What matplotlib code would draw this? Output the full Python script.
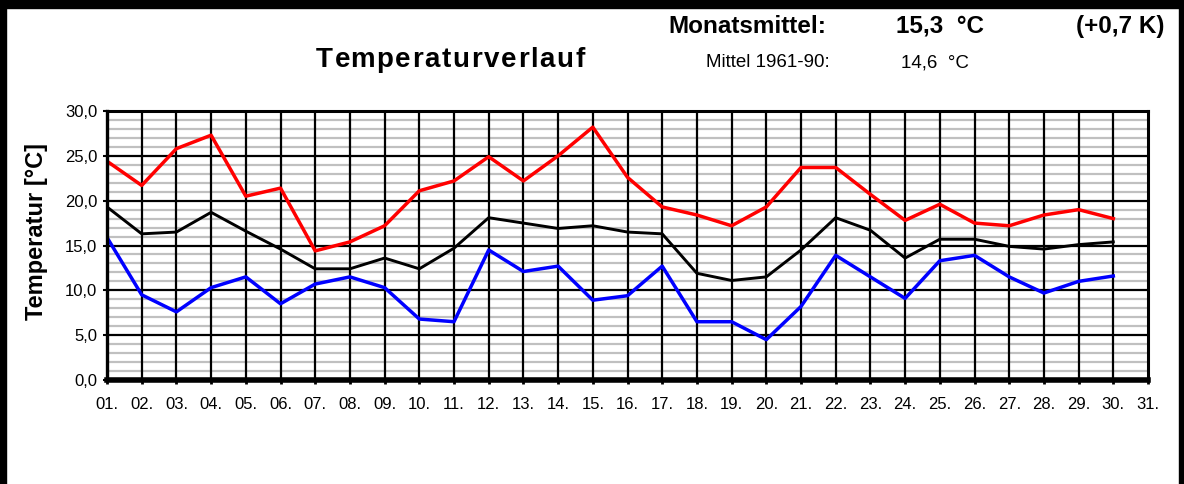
import matplotlib
matplotlib.use("Agg")
import matplotlib.pyplot as plt
from matplotlib.patches import Rectangle

plt.rcParams["font.family"] = ["Liberation Sans", "DejaVu Sans"]

# Daily values, June (days 1-30)
days = list(range(1, 31))
t_max = [24.4, 21.7, 25.8, 27.3, 20.5, 21.4, 14.4, 15.4, 17.2, 21.1,
         22.2, 24.9, 22.2, 25.0, 28.2, 22.6, 19.3, 18.4, 17.2, 19.3,
         23.7, 23.7, 20.7, 17.8, 19.6, 17.5, 17.2, 18.4, 19.0, 18.0]
t_mean = [19.3, 16.3, 16.5, 18.7, 16.6, 14.6, 12.4, 12.4, 13.6, 12.4,
          14.7, 18.1, 17.5, 16.9, 17.2, 16.5, 16.3, 11.9, 11.1, 11.5,
          14.5, 18.1, 16.7, 13.6, 15.7, 15.7, 14.9, 14.6, 15.1, 15.4]
t_min = [15.9, 9.5, 7.6, 10.3, 11.5, 8.5, 10.7, 11.5, 10.3, 6.8,
         6.5, 14.5, 12.1, 12.7, 8.9, 9.4, 12.7, 6.5, 6.5, 4.5,
         8.2, 13.9, 11.5, 9.1, 13.3, 13.9, 11.5, 9.7, 11.0, 11.6]
tick_days = list(range(1, 32))
tick_labels = [f"{d:02d}." for d in tick_days]
y_ticks = [0, 5, 10, 15, 20, 25, 30]
y_labels = ["0,0", "5,0", "10,0", "15,0", "20,0", "25,0", "30,0"]

W, H = 1184, 484
fig = plt.figure(figsize=(W / 100, H / 100), dpi=100)
ax = fig.add_axes([107 / W, 1 - 380 / H, (1148 - 107) / W, (380 - 111) / H])

ax.set_xlim(1, 31)
ax.set_ylim(0, 30)

# grid: grey minor every 1 degree, black major every 5, black vertical per day
for v in range(1, 30):
    if v % 5:
        ax.axhline(v, color="#c0c0c0", lw=1.6, zorder=1)
for v in y_ticks[1:-1]:
    ax.axhline(v, color="black", lw=1.6, zorder=2)
for d in tick_days[1:-1]:
    ax.axvline(d, color="black", lw=1.6, zorder=2)

ax.plot(days, t_max, color="#ff0000", lw=2.5, zorder=4)
ax.plot(days, t_mean, color="black", lw=2.1, zorder=4)
ax.plot(days, t_min, color="#0000ff", lw=2.5, zorder=4)

ax.set_xticks(tick_days)
ax.set_xticklabels(tick_labels, fontsize=12)
ax.set_yticks(y_ticks)
ax.set_yticklabels(y_labels, fontsize=12)
ax.tick_params(axis="x", direction="out", length=3, width=2, pad=9)
ax.tick_params(axis="y", direction="out", length=3, width=1.5, pad=4)

for side in ["top", "right"]:
    ax.spines[side].set_linewidth(2.2)
ax.spines["left"].set_linewidth(2.4)
ax.spines["bottom"].set_linewidth(4)
for s in ax.spines.values():
    s.set_zorder(5)

fig.text(37 / W, 1 - 231 / H, "Temperatur [°C]", rotation=90, fontsize=17,
         fontweight="bold", ha="center", va="center")

# title with wider letter spacing
title = "Temperaturverlauf"
renderer = fig.canvas.get_renderer()
x0, spacing = 316, 1.7
for i, ch in enumerate(title):
    if i:
        t = fig.text(0, 0, title[:i], fontsize=20, fontweight="bold")
        w = t.get_window_extent(renderer).width
        t.remove()
    else:
        w = 0
    fig.text((x0 + w + i * spacing) / W, 1 - 67 / H, ch, fontsize=20,
             fontweight="bold", ha="left", va="baseline")

fig.text(668 / W, 1 - 33 / H, "Monatsmittel:", fontsize=17.5,
         fontweight="bold", va="baseline")
fig.text(896 / W, 1 - 33 / H, "15,3  °C", fontsize=17.5,
         fontweight="bold", va="baseline")
fig.text(1164 / W, 1 - 33 / H, "(+0,7 K)", fontsize=17.5,
         fontweight="bold", va="baseline", ha="right")
fig.text(706 / W, 1 - 67 / H, "Mittel 1961-90:", fontsize=13.5,
         va="baseline")
fig.text(901 / W, 1 - 67 / H, "14,6  °C", fontsize=13.5, va="baseline")

# black frame around the figure (no bottom edge)
for (x, y, w, h) in [(0, 0, 6, H), (0, 0, W, 8), (W - 5, 0, 5, H)]:
    fig.patches.append(Rectangle((x / W, 1 - (y + h) / H), w / W, h / H,
                                 transform=fig.transFigure, color="black",
                                 zorder=10))

fig.savefig("out.png", dpi=100)
